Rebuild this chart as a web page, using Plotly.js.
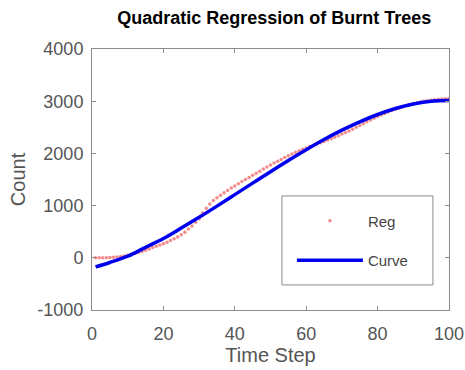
<!DOCTYPE html>
<html>
<head>
<meta charset="utf-8">
<script src="https://cdn.plot.ly/plotly-3.0.1.min.js"></script>
<style>html,body{margin:0;padding:0;background:#fff;}#chart{width:465px;height:370px;}</style>
</head>
<body>
<div id="chart"></div>
<script>
// Time steps for the observed data (1..100)
var regX = [];
for (var i = 1; i <= 100; i++) regX.push(i);
var regY = [
  0, 0, 0, 0, 5, 10, 15, 25, 35, 50,
  65, 80, 100, 120, 145, 170, 195, 220, 245, 270,
  300, 330, 365, 400, 440, 490, 550, 610, 680, 750,
  860, 950, 1030, 1100, 1150, 1200, 1245, 1290, 1335, 1375,
  1420, 1460, 1500, 1540, 1580, 1620, 1660, 1700, 1740, 1780,
  1815, 1850, 1885, 1920, 1955, 1990, 2020, 2050, 2080, 2105,
  2130, 2155, 2180, 2205, 2230, 2255, 2280, 2310, 2340, 2370,
  2400, 2430, 2465, 2500, 2535, 2570, 2605, 2640, 2675, 2705,
  2735, 2765, 2795, 2820, 2845, 2870, 2895, 2915, 2935, 2955,
  2970, 2985, 3000, 3010, 3020, 3030, 3035, 3040, 3045, 3050
];
// Fitted curve ("Curve")
var curveX = [1, 5, 10, 15, 20, 25, 30, 35, 40, 45, 50, 55, 60, 65, 70, 75, 80, 85, 90, 95, 100];
var curveY = [-175, -90, 30, 200, 370, 570, 775, 990, 1210, 1430, 1650, 1865, 2070, 2265, 2445, 2605, 2745, 2860, 2945, 3000, 3015];

var titleText = 'Quadratic Regression of Burnt Trees';
var xTitle = 'Time Step';
var yTitle = 'Count';
var xTicks = [0, 20, 40, 60, 80, 100];
var yTicks = [-1000, 0, 1000, 2000, 3000, 4000];

var FONT = 'Liberation Sans, Arial, Helvetica, sans-serif';
var GRAY = '#8c8c8c';

var traces = [
  {
    x: regX, y: regY, name: 'Reg', type: 'scatter', mode: 'markers',
    marker: {color: 'rgba(240,110,110,0.8)', size: 3.5},
    legendgroup: 'a'
  },
  {
    x: curveX, y: curveY, name: 'Curve', type: 'scatter', mode: 'lines',
    line: {color: '#0000ee', width: 3.5, shape: 'spline'},
    legendgroup: 'b'
  }
];

var axisCommon = {
  showgrid: false, zeroline: false, showline: true, mirror: 'ticks',
  linecolor: GRAY, linewidth: 1, ticks: 'inside', ticklen: 4,
  tickcolor: GRAY, ticklabelstandoff: 4,
  tickfont: {family: FONT, size: 18, color: '#555'}
};

var layout = {
  width: 465, height: 370,
  margin: {l: 92, r: 16, t: 49, b: 60},
  paper_bgcolor: '#fff', plot_bgcolor: '#fff',
  font: {family: FONT, color: '#333'},
  title: {text: '<b>' + titleText + '</b>', font: {size: 18, color: '#000'}, x: 0.59, xanchor: 'center', y: 0.953, yanchor: 'middle'},
  xaxis: Object.assign({}, axisCommon, {
    range: [0, 100], tickvals: xTicks, ticktext: xTicks.map(String),
    ticklabelstandoff: 7,
    title: {text: xTitle, font: {size: 20, color: '#555'}, standoff: 2}
  }),
  yaxis: Object.assign({}, axisCommon, {
    range: [-1000, 4000], tickvals: yTicks, ticktext: yTicks.map(String),
    title: {text: yTitle, font: {size: 20, color: '#555'}, standoff: 6}
  }),
  shapes: [{
    type: 'rect', xref: 'paper', yref: 'paper', layer: 'above',
    x0: 0.532, x1: 0.955, y0: 0.096, y1: 0.437,
    line: {color: GRAY, width: 1}, fillcolor: '#fff'
  }],
  showlegend: true,
  legend: {
    x: 0.56, y: 0.404, xanchor: 'left', yanchor: 'top',
    bgcolor: 'rgba(0,0,0,0)', borderwidth: 0,
    font: {family: FONT, size: 15, color: '#444'}, itemwidth: 66,
    traceorder: 'grouped', tracegroupgap: 17
  }
};

Plotly.newPlot('chart', traces, layout, {staticPlot: true, displayModeBar: false});
</script>
</body>
</html>
